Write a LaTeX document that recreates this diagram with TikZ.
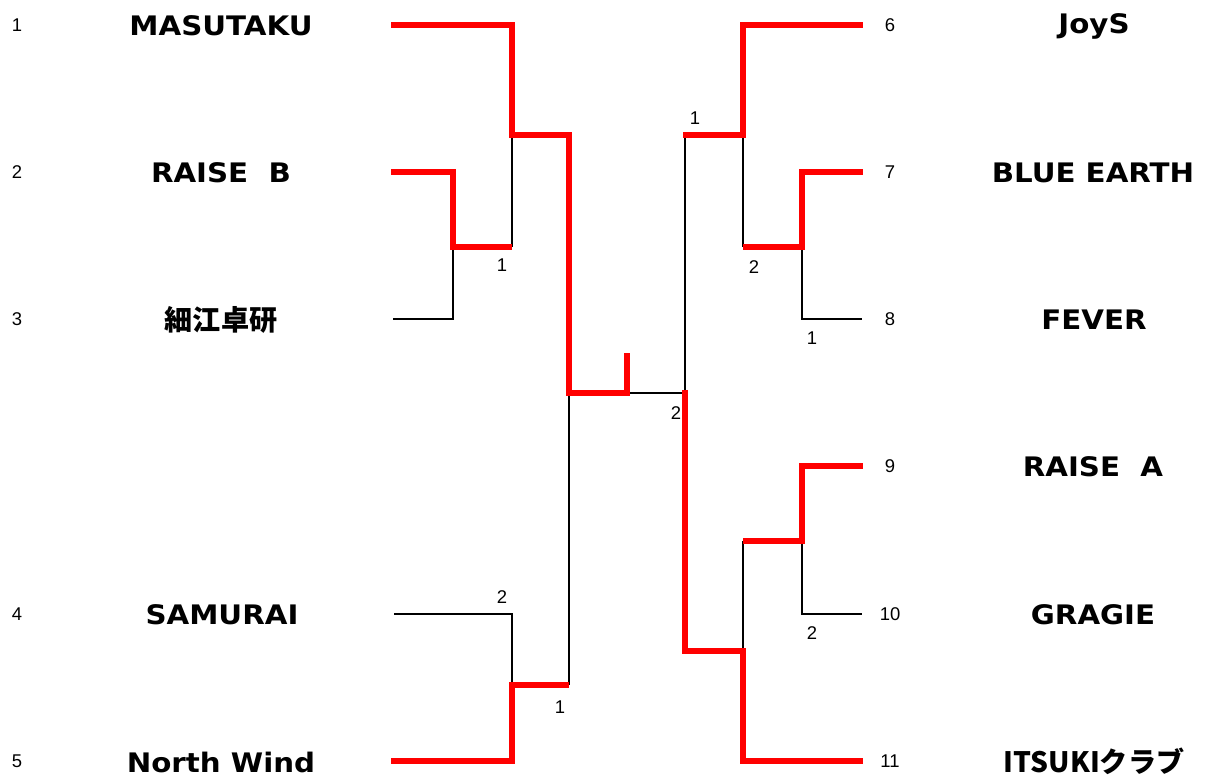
\documentclass[tikz,border=0pt]{standalone}
\usepackage{fontspec}
\setmainfont{DejaVu Sans}
\newfontfamily\teamfont{DejaVu Sans}[FakeStretch=1.09]
\newfontfamily\cjk{Noto Sans CJK JP}
\newfontfamily\digits{Liberation Sans}
\usepackage{tikz}

\tikzset{
  team/.style={font=\fontsize{15.3}{18}\selectfont\teamfont\bfseries},
  jteam/.style={font=\fontsize{16}{18}\selectfont\cjk\bfseries},
  seed/.style={font=\fontsize{10.5}{12}\selectfont\digits},
  score/.style={font=\fontsize{10.5}{12}\selectfont\digits},
  lose/.style={black, line width=1.3pt},
  win/.style={red, line width=3.4pt, line join=miter}
}

\begin{document}
\begin{tikzpicture}[x=0.02cm, y=-0.02cm]
\useasboundingbox (0,0) rectangle (1206,776);

% seeds and teams, left
\node[seed] (n1) at (17,25) {1};
\node[seed] (n2) at (17,172) {2};
\node[seed] (n3) at (17,319) {3};
\node[seed] (n4) at (17,614) {4};
\node[seed] (n5) at (17,761) {5};
\node[team] (t1) at (221,26) {MASUTAKU};
\node[team] (t2) at (221,173) {RAISE\ \ B};
\node[jteam] (t3) at (221,320) {細江卓研};
\node[team] (t4) at (222,615) {SAMURAI};
\node[team] (t5) at (221,762) {North Wind};

% seeds and teams, right
\node[seed] (n6) at (890,25) {6};
\node[seed] (n7) at (890,172) {7};
\node[seed] (n8) at (890,319) {8};
\node[seed] (n9) at (890,466) {9};
\node[seed] (n10) at (890,614) {10};
\node[seed] (n11) at (890,761) {11};
\node[team] (t6) at (1094,26) {JoyS};
\node[team] (t7) at (1093,173) {BLUE EARTH};
\node[team] (t8) at (1094,320) {FEVER};
\node[team] (t9) at (1093,467) {RAISE\ \ A};
\node[team] (t10) at (1093,615) {GRAGIE};
\node[jteam] (t11) at (1094,761) {ITSUKIクラブ};

% line ends and joints
\coordinate (e1) at (391,25);
\coordinate (e2) at (391,172);
\coordinate (e3) at (393,319);
\coordinate (e4) at (394,614);
\coordinate (e5) at (391,761);
\coordinate (e6) at (863,25);
\coordinate (e7) at (863,172);
\coordinate (e8) at (862,319);
\coordinate (e9) at (863,466);
\coordinate (e10) at (862,614);
\coordinate (e11) at (863,761);
\coordinate (j23) at (453,247);
\coordinate (j123) at (512,135);
\coordinate (j45) at (512,685);
\coordinate (jL) at (569,393);
\coordinate (jM) at (627,393);
\coordinate (jC) at (685,393);
\coordinate (j78) at (802,247);
\coordinate (j678) at (743,135);
\coordinate (j910) at (802,541);
\coordinate (j91011) at (743,651);

% losing lines
\draw[lose] (e3) -| (j23);
\draw[lose] (j123) -- (j123 |- j23);
\draw[lose] (e4) -| (j45);
\draw[lose] (jL) -- (jL |- j45);
\draw[lose] (jM) -- (jC) -- (jC |- j678);
\draw[lose] (j678) -- (j678 |- j78);
\draw[lose] (j78) |- (e8);
\draw[lose] (j91011) -- (j91011 |- j910);
\draw[lose] (j910) |- (e10);

% winning lines
\draw[win] (e1) -| (j123) -- (jL |- j123) -- (jL) -- (jM) -- ++(0,-40);
\draw[win] (e2) -| (j23) -- (j123 |- j23);
\draw[win] (e5) -| (j45) -- (jL |- j45);
\draw[win] (683,135) -- (j678) |- (e6);
\draw[win] (j678 |- j78) -- (j78) |- (e7);
\draw[win] (685,390) |- (j91011) |- (e11);
\draw[win] (j91011 |- j910) -- (j910) |- (e9);

% scores
\node[score] (s1) at (502,265) {1};
\node[score] (s2) at (502,597) {2};
\node[score] (s3) at (560,707) {1};
\node[score] (s4) at (676,413) {2};
\node[score] (s5) at (695,118) {1};
\node[score] (s6) at (754,267) {2};
\node[score] (s7) at (812,338) {1};
\node[score] (s8) at (812,633) {2};
\end{tikzpicture}
\end{document}
